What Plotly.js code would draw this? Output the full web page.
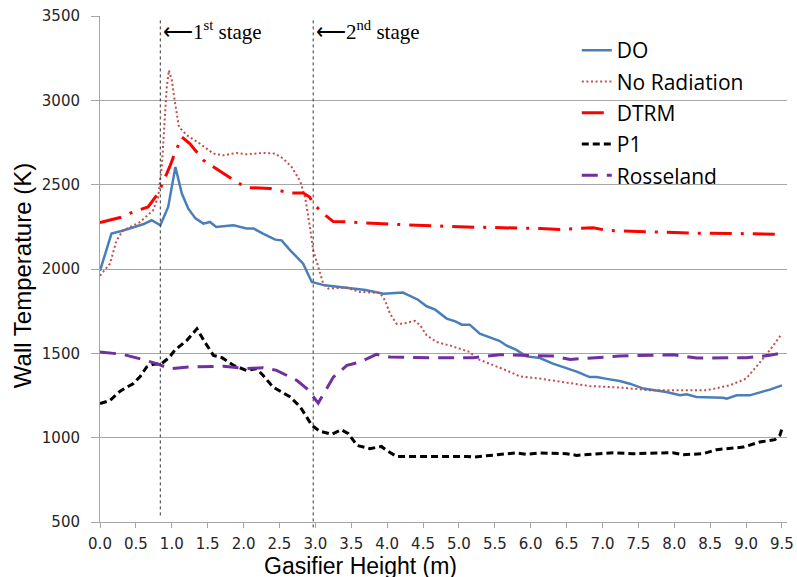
<!DOCTYPE html>
<html>
<head>
<meta charset="utf-8">
<script src="https://cdn.plot.ly/plotly-3.0.1.min.js"></script>
<style>html,body{margin:0;padding:0;background:#fff;}#chart{width:797px;height:577px;}</style>
</head>
<body>
<div id="chart"></div>
<script>
// ---- data ----
const doX = [0.0, 0.16, 0.3, 0.45, 0.6, 0.72, 0.84, 0.95, 1.05, 1.14, 1.23, 1.33, 1.44, 1.53, 1.62, 1.75, 1.86, 2.04, 2.14, 2.27, 2.44, 2.53, 2.65, 2.83, 2.95, 3.13, 3.44, 3.7, 3.95, 4.22, 4.43, 4.55, 4.67, 4.83, 4.95, 5.04, 5.15, 5.29, 5.43, 5.57, 5.66, 5.8, 5.94, 6.13, 6.3, 6.45, 6.65, 6.82, 6.92, 7.08, 7.24, 7.38, 7.57, 7.75, 7.89, 8.08, 8.17, 8.31, 8.5, 8.68, 8.73, 8.87, 9.05, 9.2, 9.33, 9.5];
const doY = [1990, 2210, 2225, 2245, 2265, 2289, 2259, 2368, 2605, 2447, 2358, 2300, 2269, 2279, 2249, 2255, 2259, 2240, 2240, 2210, 2174, 2170, 2111, 2032, 1923, 1903, 1890, 1875, 1854, 1860, 1818, 1779, 1759, 1706, 1690, 1670, 1670, 1617, 1595, 1573, 1547, 1520, 1482, 1472, 1440, 1419, 1390, 1359, 1359, 1347, 1336, 1320, 1291, 1280, 1271, 1251, 1257, 1241, 1240, 1237, 1231, 1251, 1251, 1268, 1285, 1310];

const noRadX = [0.0, 0.14, 0.23, 0.32, 0.45, 0.56, 0.74, 0.81, 0.86, 0.89, 0.93, 0.96, 1.0, 1.04, 1.10, 1.21, 1.39, 1.58, 1.72, 1.90, 2.04, 2.27, 2.44, 2.55, 2.67, 2.79, 2.86, 2.92, 2.97, 3.04, 3.11, 3.18, 3.43, 3.62, 3.90, 3.97, 4.04, 4.13, 4.22, 4.39, 4.46, 4.55, 4.69, 4.87, 5.06, 5.15, 5.25, 5.43, 5.66, 5.85, 6.13, 6.41, 6.59, 6.82, 7.29, 7.66, 7.99, 8.45, 8.77, 9.0, 9.14, 9.33, 9.5];
const noRadY = [1960, 2032, 2170, 2229, 2255, 2279, 2348, 2427, 2605, 2803, 3079, 3178, 3119, 3000, 2842, 2793, 2744, 2684, 2674, 2688, 2680, 2688, 2684, 2655, 2605, 2520, 2420, 2260, 2111, 2012, 1913, 1884, 1890, 1864, 1858, 1814, 1735, 1676, 1676, 1692, 1666, 1607, 1567, 1547, 1522, 1508, 1468, 1439, 1399, 1363, 1350, 1332, 1320, 1306, 1296, 1281, 1281, 1281, 1310, 1350, 1419, 1518, 1617];

const dtrmX = [0.0, 0.28, 0.46, 0.67, 0.79, 0.86, 0.97, 1.04, 1.14, 1.25, 1.44, 1.72, 1.90, 2.04, 2.37, 2.65, 2.83, 2.92, 2.97, 3.11, 3.25, 3.39, 3.71, 4.41, 5.11, 5.80, 6.13, 6.41, 6.64, 6.87, 7.06, 7.52, 8.22, 8.91, 9.42, 9.5];
const dtrmY = [2275, 2305, 2338, 2368, 2437, 2496, 2605, 2684, 2783, 2744, 2645, 2566, 2516, 2483, 2477, 2451, 2451, 2427, 2388, 2329, 2281, 2280, 2273, 2259, 2249, 2245, 2240, 2234, 2240, 2245, 2229, 2223, 2213, 2210, 2206, 2194];

const p1X = [0.0, 0.14, 0.28, 0.46, 0.56, 0.65, 0.74, 0.86, 0.97, 1.04, 1.21, 1.35, 1.46, 1.58, 1.70, 1.86, 2.04, 2.18, 2.27, 2.41, 2.65, 2.79, 2.88, 2.95, 3.06, 3.23, 3.36, 3.46, 3.58, 3.76, 3.92, 3.99, 4.13, 4.64, 5.11, 5.20, 5.57, 5.80, 5.94, 6.13, 6.50, 6.64, 7.15, 7.43, 7.98, 8.12, 8.40, 8.59, 8.96, 9.19, 9.40, 9.47, 9.5];
const p1Y = [1202, 1221, 1276, 1320, 1363, 1419, 1435, 1439, 1478, 1518, 1577, 1646, 1567, 1488, 1474, 1429, 1399, 1409, 1370, 1300, 1241, 1182, 1122, 1073, 1039, 1020, 1047, 1024, 954, 935, 948, 925, 889, 891, 889, 885, 899, 910, 901, 909, 905, 895, 911, 905, 911, 899, 905, 929, 944, 974, 988, 1014, 1053];

const rossX = [0.0, 0.32, 0.60, 0.79, 0.97, 1.25, 1.72, 2.04, 2.27, 2.46, 2.74, 2.88, 3.04, 3.13, 3.25, 3.44, 3.62, 3.85, 4.04, 4.64, 5.20, 5.57, 6.03, 6.31, 6.55, 7.24, 7.99, 8.31, 9.01, 9.33, 9.5];
const rossY = [1508, 1494, 1463, 1439, 1409, 1419, 1423, 1409, 1415, 1399, 1340, 1291, 1205, 1270, 1359, 1429, 1448, 1494, 1478, 1474, 1474, 1492, 1488, 1484, 1464, 1484, 1492, 1472, 1474, 1488, 1502];

const seriesNames = ['DO', 'No Radiation', 'DTRM', 'P1', 'Rosseland'];
const xTickVals = [0.0, 0.5, 1.0, 1.5, 2.0, 2.5, 3.0, 3.5, 4.0, 4.5, 5.0, 5.5, 6.0, 6.5, 7.0, 7.5, 8.0, 8.5, 9.0, 9.5];
const xTickText = ['0.0', '0.5', '1.0', '1.5', '2.0', '2.5', '3.0', '3.5', '4.0', '4.5', '5.0', '5.5', '6.0', '6.5', '7.0', '7.5', '8.0', '8.5', '9.0', '9.5'];
const yTickVals = [500, 1000, 1500, 2000, 2500, 3000, 3500];
const stagePos = [0.84, 2.97];
const stageLabels = ['\u27F51<sup>st</sup> stage', '\u27F52<sup>nd</sup> stage'];
const xTitle = 'Gasifier Height (m)';
const yTitle = 'Wall Temperature (K)';

// ---- traces ----
const traces = [
  {x: doX, y: doY, name: seriesNames[0], legendgroup: 'a', mode: 'lines',
   line: {color: '#4a7ebb', width: 2.5}},
  {x: noRadX, y: noRadY, name: seriesNames[1], legendgroup: 'b', mode: 'lines',
   line: {color: '#c0504d', width: 2, dash: '2px,2.6px'}},
  {x: dtrmX, y: dtrmY, name: seriesNames[2], legendgroup: 'c', mode: 'lines',
   line: {color: '#ff0000', width: 3, dash: '22px,9px,3px,9px'}},
  {x: p1X, y: p1Y, name: seriesNames[3], legendgroup: 'd', mode: 'lines',
   line: {color: '#000000', width: 3, dash: '7px,4px'}},
  {x: rossX, y: rossY, name: seriesNames[4], legendgroup: 'e', mode: 'lines',
   line: {color: '#7030a0', width: 3, dash: '16px,9px'}}
];

const axisColor = '#a6a6a6';
const PT = 16, PB = 521.6, PH = PB - PT;
function py(pix) { return (PB - pix) / PH; }

const layout = {
  width: 797, height: 577,
  margin: {l: 100, r: 10, t: 16, b: 55.4, pad: 0},
  paper_bgcolor: '#ffffff', plot_bgcolor: '#ffffff',
  showlegend: true,
  legend: {x: 0.694, y: py(30), xanchor: 'left', yanchor: 'top',
    bgcolor: 'rgba(0,0,0,0)', borderwidth: 0, tracegroupgap: 1,
    font: {family: 'Open Sans', size: 21, color: '#000'}},
  xaxis: {range: [0, 9.57], tickvals: xTickVals, ticktext: xTickText,
    showgrid: false, zeroline: false, showline: true, linecolor: axisColor, linewidth: 1,
    ticks: 'outside', ticklen: 5, tickcolor: axisColor, ticklabelstandoff: 3,
    tickfont: {family: 'DejaVu Sans', size: 15, color: '#262626'}},
  yaxis: {range: [500, 3500], tickvals: yTickVals,
    showgrid: true, gridcolor: axisColor, gridwidth: 1, zeroline: false,
    showline: true, linecolor: axisColor, linewidth: 1,
    ticks: 'outside', ticklen: 8, tickcolor: axisColor, ticklabelstandoff: 8,
    tickfont: {family: 'DejaVu Sans', size: 15, color: '#262626'}},
  shapes: [
    {type: 'line', xref: 'x', yref: 'paper', x0: stagePos[0], x1: stagePos[0], y0: py(515), y1: py(18),
     line: {color: '#333', width: 1, dash: 'dot'}},
    {type: 'line', xref: 'x', yref: 'paper', x0: stagePos[1], x1: stagePos[1], y0: py(527), y1: py(18),
     line: {color: '#333', width: 1, dash: 'dot'}}
  ],
  annotations: [
    {x: stagePos[0], xref: 'x', y: py(30), yref: 'paper', text: stageLabels[0], showarrow: false,
     xanchor: 'left', yanchor: 'middle', xshift: 1,
     font: {family: 'Liberation Serif', size: 21, color: '#000'}},
    {x: stagePos[1], xref: 'x', y: py(30), yref: 'paper', text: stageLabels[1], showarrow: false,
     xanchor: 'left', yanchor: 'middle', xshift: 1,
     font: {family: 'Liberation Serif', size: 21, color: '#000'}},
    {x: (360 - 100) / 687, xref: 'paper', y: py(566), yref: 'paper', text: xTitle, showarrow: false,
     xanchor: 'center', yanchor: 'middle',
     font: {family: 'Liberation Sans', size: 23, color: '#000'}},
    {x: (22 - 100) / 687, xref: 'paper', y: py(276), yref: 'paper', text: yTitle, showarrow: false,
     textangle: -90, xanchor: 'center', yanchor: 'middle',
     font: {family: 'Liberation Sans', size: 24, color: '#000'}}
  ]
};

Plotly.newPlot('chart', traces, layout, {displayModeBar: false, staticPlot: true});
</script>
</body>
</html>
